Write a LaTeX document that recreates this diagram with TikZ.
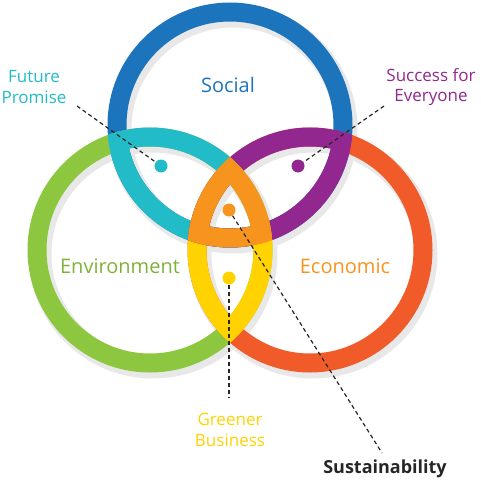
\documentclass[tikz,border=0pt]{standalone}
\usepackage{fontspec}
\setmainfont{Open Sans}
\definecolor{socblue}{HTML}{1C75BC}
\definecolor{envgreen}{HTML}{8DC63F}
\definecolor{ecored}{HTML}{F15A29}
\definecolor{fpteal}{HTML}{22BCC8}
\definecolor{sepurple}{HTML}{92278F}
\definecolor{gbyellow}{HTML}{FFD200}
\definecolor{susorange}{HTML}{F7941D}
\def\rr{113pt}
\def\ro{122.5pt}

\begin{document}
\begin{tikzpicture}[x=1pt,y=-1pt,
  ring/.style={line width=19pt},
  shade ring/.style={line width=23pt,black!9},
  dot node/.style={circle,inner sep=0pt,minimum size=13pt},
  big node/.style={font=\fontsize{20}{24}\selectfont},
  small node/.style={align=center,font=\fontsize{17}{20.5}\selectfont},
  dash line/.style={black!85,line width=1.2pt,dash pattern=on 4pt off 3pt}]

  \useasboundingbox (0,0) rectangle (480,481);

  \coordinate (soc) at (230,125);
  \coordinate (env) at (150,250);
  \coordinate (eco) at (310,250);

  % soft shadow
  \foreach \c in {soc,env,eco}
    \draw[shade ring] ([shift={(3,4)}]\c) circle[radius=\rr];

  \draw[ring,socblue] (soc) circle[radius=\rr];
  \draw[ring,envgreen] (env) circle[radius=\rr];
  \draw[ring,ecored] (eco) circle[radius=\rr];

  % pairs
  \begin{scope}\clip (env) circle[radius=\ro];
    \draw[ring,fpteal] (soc) circle[radius=\rr];
    \draw[ring,gbyellow] (eco) circle[radius=\rr];\end{scope}
  \begin{scope}\clip (soc) circle[radius=\ro];
    \draw[ring,fpteal] (env) circle[radius=\rr];
    \draw[ring,sepurple] (eco) circle[radius=\rr];\end{scope}
  \begin{scope}\clip (eco) circle[radius=\ro];
    \draw[ring,sepurple] (soc) circle[radius=\rr];
    \draw[ring,gbyellow] (env) circle[radius=\rr];\end{scope}

  % all three
  \begin{scope}\clip (env) circle[radius=\ro];\clip (eco) circle[radius=\ro];
    \draw[ring,susorange] (soc) circle[radius=\rr];\end{scope}
  \begin{scope}\clip (soc) circle[radius=\ro];\clip (eco) circle[radius=\ro];
    \draw[ring,susorange] (env) circle[radius=\rr];\end{scope}
  \begin{scope}\clip (soc) circle[radius=\ro];\clip (env) circle[radius=\ro];
    \draw[ring,susorange] (eco) circle[radius=\rr];\end{scope}

  \node[dot node,fill=fpteal] (fpdot) at (161,166) {};
  \node[dot node,fill=sepurple] (sedot) at (298,166) {};
  \node[dot node,fill=susorange] (susdot) at (229,210) {};
  \node[dot node,fill=gbyellow] (gbdot) at (229,278) {};

  \node[big node,text=socblue] (social) at (228,85) {Social};
  \node[big node,text=envgreen!90!black] (environ) at (120,266) {Environment};
  \node[big node,text=susorange] (econ) at (345,266) {Economic};

  \node[small node,text=fpteal] (fp) at (34,87) {Future\\Promise};
  \node[small node,text=sepurple] (se) at (431,87) {Success for\\Everyone};
  \node[small node,text=gbyellow] (gb) at (230,430) {Greener\\Business};
  \node[small node,font=\fontsize{18}{20}\selectfont\bfseries,text=black!85] (sus) at (385,469) {Sustainability};

  \coordinate (fpend) at (77,106);
  \coordinate (seend) at (384,106);
  \coordinate (susend) at (382,453);
  \coordinate (gbend) at (229,398);

  \path[dash line]
    (fpend) edge (fpdot)
    (seend) edge (sedot)
    (susdot) edge (susend)
    (gbdot) edge (gbend);

\end{tikzpicture}
\end{document}
